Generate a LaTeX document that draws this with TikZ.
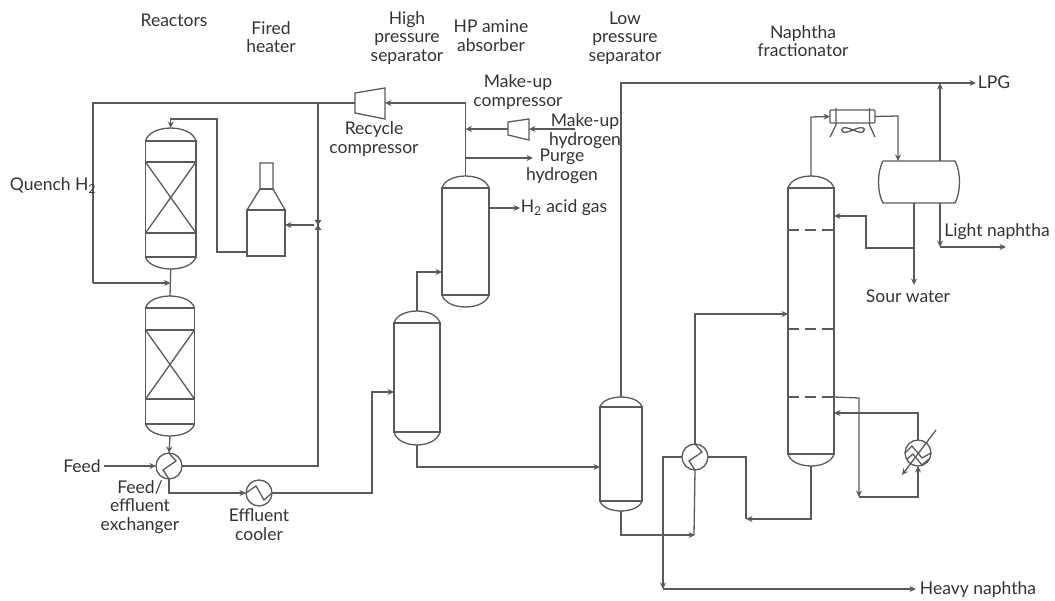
\documentclass[tikz,border=0pt]{standalone}
\usepackage{fontspec}
\setmainfont{Lato}
\usetikzlibrary{calc, arrows.meta}

\definecolor{pipegray}{HTML}{5a5a5a}
\definecolor{textgray}{HTML}{333333}

\tikzset{
    pipe/.style={draw=pipegray, line width=1.3pt},
    flow/.style={pipe, ->},
    shell/.style={pipe, rectangle, inner sep=0pt, outer sep=0pt},
    hx/.style={pipe, circle, fill=white, minimum size=26pt, inner sep=0pt, outer sep=0pt},
    tag/.style={font=\fontsize{17.5}{18.7}\selectfont, text=textgray, align=center, inner sep=0pt},
}

% name, centre x, dome top, shoulder, bottom line, bottom tip, width
\newcommand{\vessel}[7]{
    \node[shell, minimum width=#7pt, minimum height={(#5-#4)*1pt}] (#1) at (#2,{(#4+#5)/2}) {};
    \coordinate (#1top) at (#2,#3);
    \coordinate (#1tip) at (#2,#6);
    \draw[pipe] (#1.north west) .. controls +({0.1*#7},{-1.33*(#4-#3)}) and +({-0.1*#7},{-1.33*(#4-#3)}) .. (#1.north east);
    \draw[pipe] (#1.south west) .. controls +({0.1*#7},{1.33*(#6-#5)}) and +({-0.1*#7},{1.33*(#6-#5)}) .. (#1.south east);
}

\begin{document}
\begin{tikzpicture}[>={Stealth[length=6.5pt, width=6pt]}, x=1pt, y=-1pt]
    \useasboundingbox (0,0) rectangle (1055,601);

    % Reactors
    \vessel{reactorA}{170.75}{128}{141}{257}{269}{50.5}
    \vessel{reactorB}{170}{296}{308}{424}{436}{49}
    \draw[pipe] (145.5,162) -- (196,162) (145.5,233) -- (196,233);
    \draw[pipe] (145.5,162) -- (196,233) (145.5,233) -- (196,162);
    \draw[pipe] (145.5,330) -- (194.5,330) (145.5,399) -- (194.5,399);
    \draw[pipe] (145.5,330) -- (194.5,399) (145.5,399) -- (194.5,330);
    \draw[pipe] (reactorAtip) -- (reactorBtop);

    % Fired heater
    \node[shell, minimum width=38pt, minimum height=46pt] (heater) at (266,233) {};
    \draw[pipe] (heater.north west) -- (260,189) -- (260,163) -- (273,163) -- (273,189) -- (heater.north east);
    \draw[pipe] (260,189) -- (273,189);
    \draw[flow] (247,252) -- (217,252) -- (217,119) -- (170.75,119) -- (reactorAtop);

    % Separators and absorber
    \vessel{hpsep}{417}{311}{323}{432}{445}{46}
    \vessel{absorber}{465.5}{176}{188}{295}{307}{47}
    \vessel{lpsep}{621}{397}{407}{501}{511}{42}

    % Fractionator
    \vessel{column}{811}{176}{188}{454}{466}{46}
    \foreach \y in {230, 329, 397} {
        \draw[pipe, dash pattern=on 11pt off 6pt] (788,\y) -- (834,\y);
    }

    % Exchangers
    \node[hx] (feedhx) at (169,466) {};
    \draw[pipe] (feedhx.north) -- ++(7,8) -- ++(-13,9) -- (feedhx.south);
    \node[hx] (cooler) at (259,493) {};
    \draw[pipe] (cooler.west) -- ++(10,-7) -- ++(8,14) -- (cooler.east);
    \node[hx] (bottomshx) at (695,457) {};
    \draw[pipe] (bottomshx.north) -- ++(7,8) -- ++(-13,9) -- (bottomshx.south);
    \node[hx] (reboiler) at (918,453) {};
    \draw[pipe] (reboiler.west) -- ++(7,-7) -- ++(10,12) -- (reboiler.east);
    \draw[pipe] ($(reboiler.west)+(2,6)$) -- ++(6,-5) -- ++(9,11) -- ($(reboiler.east)+(-2,6)$);
    \draw[pipe, ->] (936,430) -- (902,475);

    % Compressors
    \coordinate (recycleL) at (355,103);
    \coordinate (recycleR) at (385,103);
    \draw[pipe] (355,93) -- (385,88) -- (385,119) -- (355,113) -- cycle;
    \coordinate (makeupL) at (508,129);
    \coordinate (makeupR) at (529,129);
    \draw[pipe] (508,122) -- (529,119) -- (529,140) -- (508,135) -- cycle;

    % Recycle loop
    \coordinate (loopT) at (318,103);
    \coordinate (loopB) at (318,466);
    \draw[pipe] (recycleL) -- (93,103) -- (93,283);
    \draw[flow] (93,283) -- (170.5,283);
    \draw[pipe] (feedhx.east) -- (loopB) -- (loopT);
    \draw[flow] (314,225) -- (heater.east |- 0,225);
    \fill[pipegray] (314.5,220) -- (321.5,220) -- (314.5,230) -- (321.5,230) -- cycle;

    % Reactor effluent
    \coordinate (feedin) at (104,466);
    \draw[flow] (feedin) -- (feedhx.west);
    \draw[flow] (reactorBtip) -- (feedhx.north);
    \draw[flow] (feedhx.south) |- (cooler.west);
    \draw[flow] (cooler.east) -- (372,493) -- (372,392) -- (hpsep.west |- 0,392);
    \draw[flow] (hpseptop) -- (417,272) -- (absorber.west |- 0,272);

    % Absorber overhead
    \draw[flow] (absorbertop) -- (465.5,103) -- (recycleR);
    \coordinate (mkfeed) at (575,129);
    \coordinate (purgeend) at (533,158);
    \coordinate (acidend) at (520,208);
    \draw[flow] (mkfeed) -- (makeupR);
    \draw[flow] (makeupL) -- (465.5,129);
    \draw[flow] (465.5,158) -- (purgeend);
    \draw[flow] (absorber.east |- acidend) -- (acidend);

    % Low pressure separator
    \draw[flow] (hpseptip) |- (lpsep.west |- 0,467);
    \coordinate (lpgend) at (976,83);
    \draw[flow] (lpseptop) -- (621,83) -- (lpgend);
    \draw[flow] (lpseptip) -- (621,535) -- (695,535);
    \draw[pipe] (694,535) -- (bottomshx.south);
    \draw[flow] (bottomshx.north) -- (695,314) -- (column.west |- 0,314);

    % Drum
    \coordinate (drumTL) at (883,161);
    \coordinate (drumTR) at (955,161);
    \coordinate (drumBL) at (883,203);
    \coordinate (drumBR) at (955,203);
    \draw[pipe] (drumTL) -- (drumTR) .. controls (961,172) and (961,192) .. (drumBR) -- (drumBL) .. controls (877,192) and (877,172) .. (drumTL);

    % Overhead condenser
    \node[shell, minimum width=45pt, minimum height=13pt, rounded corners=1pt] (aircooler) at (852.5,116.5) {};
    \draw[pipe] (836,108) -- (836,125) -- (830,137) (869.5,108) -- (869.5,125) -- (875,137);
    \draw[pipe] (843,128) .. controls (848,126) and (858,134) .. (863,132) .. controls (865,130) and (865,128) .. (863,128) .. controls (858,126) and (848,134) .. (843,132) .. controls (841,131) and (841,129) .. (843,128);
    \draw[flow] (columntop) -- (811,117) -- (aircooler.west);
    \draw[flow] (aircooler.east) -- (898,116) -- (898,161);

    % Drum outlets
    \coordinate (lightend) at (1006,247);
    \coordinate (waterend) at (914,285);
    \draw[flow] (940,161) -- (940,83);
    \draw[flow] (940,203) -- (940,247);
    \draw[flow] (940,247) -- (lightend);
    \draw[flow] (914,203) -- (waterend);
    \draw[flow] (914,248) -- (866,248) -- (866,216) -- (column.east |- 0,216);

    % Fractionator bottoms
    \draw[flow] (columntip) -- (811,519) -- (746,519);
    \draw[pipe] (bottomshx.east) -- (746,457) -- (746,519);
    \draw[flow] (bottomshx.west) -- (663,457) -- (663,589);
    \coordinate (heavyend) at (916,589);
    \draw[flow] (663,589) -- (heavyend);
    \draw[flow] (834,397) -- (859,398) -- (859,497);
    \draw[flow] (859,497) -- (918,497) -- (reboiler.south);
    \draw[flow] (reboiler.north) -- (918,413) -- (column.east |- 0,413);

    % Labels
    \node[tag] (lreactors) at (174,20) {Reactors};
    \node[tag] (lfired) at (271,37) {Fired\\heater};
    \node[tag] (lhigh) at (407,38) {High\\pressure\\separator};
    \node[tag] (lamine) at (491,36) {HP amine\\absorber};
    \node[tag] (llow) at (625,38) {Low\\pressure\\separator};
    \node[tag] (lfrac) at (803,41) {Naphtha\\fractionator};
    \node[tag] (lmcomp) at (518,92) {Make-up\\compressor};
    \node[tag] (lrcomp) at (374,139) {Recycle\\compressor};
    \node[tag] (lmh) at (585,131) {Make-up\\hydrogen};
    \node[tag] (lpurge) at (562,166) {Purge\\hydrogen};
    \node[tag] (lacid) at (564,208) {H\textsubscript{2} acid gas};
    \node[tag] (llpg) at (994,82) {LPG};
    \node[tag] (llight) at (997,232) {Light naphtha};
    \node[tag] (lwater) at (908,296) {Sour water};
    \node[tag] (lquench) at (53,186) {Quench H\textsubscript{2}};
    \node[tag] (lfeed) at (82,466) {Feed};
    \node[tag] (lexch) at (140,507) {Feed/\\effluent\\exchanger};
    \node[tag] (lcool) at (259,525) {Effluent\\cooler};
    \node[tag] (lheavy) at (978,590) {Heavy naphtha};
\end{tikzpicture}
\end{document}
